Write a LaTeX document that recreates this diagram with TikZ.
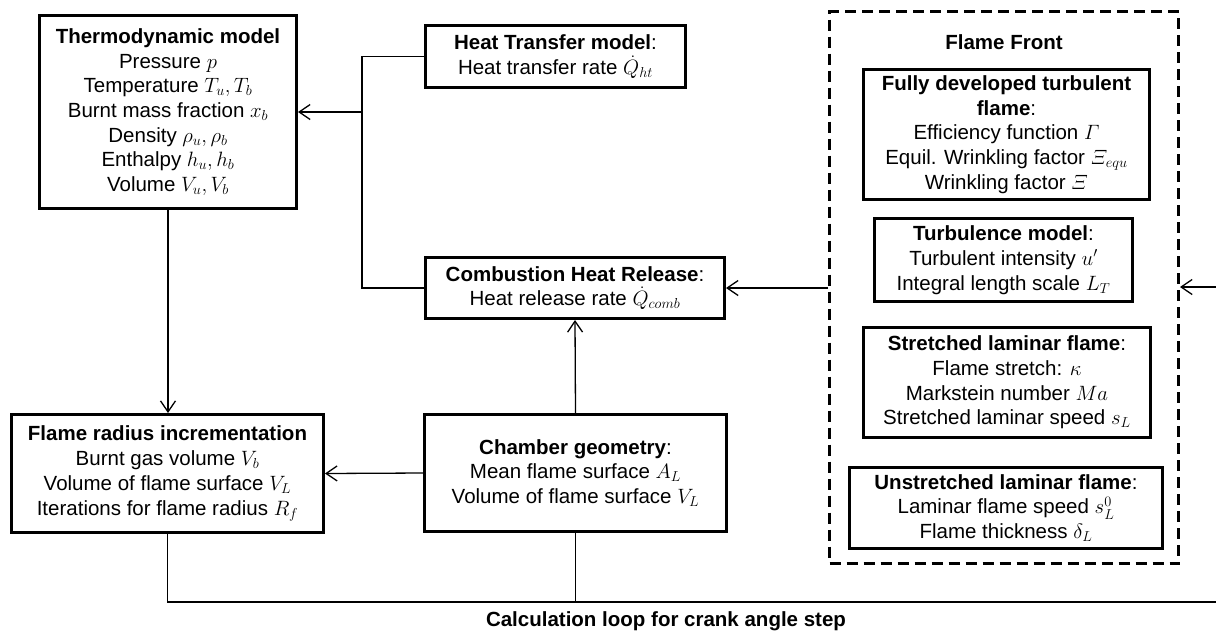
\documentclass[tikz,border=0pt]{standalone}
\usepackage{amsmath}
\usepackage{fontspec}
\setmainfont{Liberation Sans}
\usetikzlibrary{arrows.meta}

\begin{document}
\begin{tikzpicture}[x=1pt, y=-1pt,
        font=\fontsize{20.5}{24.7}\selectfont,
        >={Straight Barb[length=11pt,width=15pt]},
        block/.style={draw, line width=3pt, align=center, inner sep=0pt},
        link/.style={line width=1.3pt}]
            \useasboundingbox (0,0) rectangle (1216,633);
            \node[block, minimum width=257pt, minimum height=193pt] (thermo) at (168,112) {\textbf{Thermodynamic model}\\ Pressure $p$\\ Temperature $T_u,T_b$\\ Burnt mass fraction $x_b$\\ Density $\rho_u,\rho_b$\\ Enthalpy $h_u,h_b$\\ Volume $V_u,V_b$};
            \node[block, minimum width=260pt, minimum height=62pt] (heat) at (555.5,56.5) {\textbf{Heat Transfer model}:\\ Heat transfer rate $\dot{Q}_{ht}$};
            \node[block, minimum width=299pt, minimum height=61pt] (comb) at (575,288) {\textbf{Combustion Heat Release}:\\ Heat release rate $\dot{Q}_{comb}$};
            \node[block, minimum width=312pt, minimum height=118pt] (radius) at (167.5,473.5) {\textbf{Flame radius incrementation}\\ Burnt gas volume $V_b$\\ Volume of flame surface $V_L$\\ Iterations for flame radius $R_f$};
            \node[block, minimum width=302pt, minimum height=117pt] (chamber) at (575.5,473) {\textbf{Chamber geometry}:\\ Mean flame surface $A_L$\\ Volume of flame surface $V_L$};
            \node[draw, dashed, dash pattern=on 11pt off 6pt, line width=3pt, minimum width=349pt, minimum height=552pt] (front) at (1004,287.5) {};
            \node (fronttitle) at (1004,42) {\textbf{Flame Front}};
            \node[block, minimum width=286pt, minimum height=130pt] (fully) at (1006.5,134.5) {\textbf{Fully developed turbulent}\\ \textbf{flame}:\\ Efficiency function $\varGamma$\\ Equil. Wrinkling factor $\varXi_{equ}$\\ Wrinkling factor $\varXi$};
            \node[block, minimum width=258pt, minimum height=83pt] (turb) at (1003.5,260) {\textbf{Turbulence model}:\\ Turbulent intensity $u'$\\ Integral length scale $L_T$};
            \node[block, minimum width=287pt, minimum height=110pt] (stretch) at (1007,382.5) {\textbf{Stretched laminar flame}:\\ Flame stretch: $\kappa$\\ Markstein number $Ma$\\ Stretched laminar speed $s_L$};
            \node[block, minimum width=313pt, minimum height=81pt] (unstretch) at (1006,508) {\textbf{Unstretched laminar flame}:\\ Laminar flame speed $s_L^0$\\ Flame thickness $\delta_L$};
            \coordinate (bus) at (362,112);
            \coordinate (feed) at (1216,287);
            \coordinate (loopend) at (1216,602);
            \draw[link] (heat.west) -| (bus) |- (comb.west);
            \draw[link,->] (bus) -- (thermo.east);
            \draw[link,->] (front.west |- comb.east) -- (comb.east);
            \draw[link,->] (feed) -- (front.east |- feed);
            \draw[link,->] (thermo.south) -- (thermo.south |- radius.north);
            \draw[link,->] (chamber.west) -- (radius.east);
            \draw[link,->] (chamber.north) -- (comb.south);
            \draw[link] (radius.south) |- (chamber.south |- loopend);
            \draw[link] (chamber.south) -- (chamber.south |- loopend);
            \draw[line width=2.2pt] (chamber.south |- loopend) -- (loopend);
            \node (looplabel) at (666,621) {\textbf{Calculation loop for crank angle step}};
        \end{tikzpicture}
\end{document}
